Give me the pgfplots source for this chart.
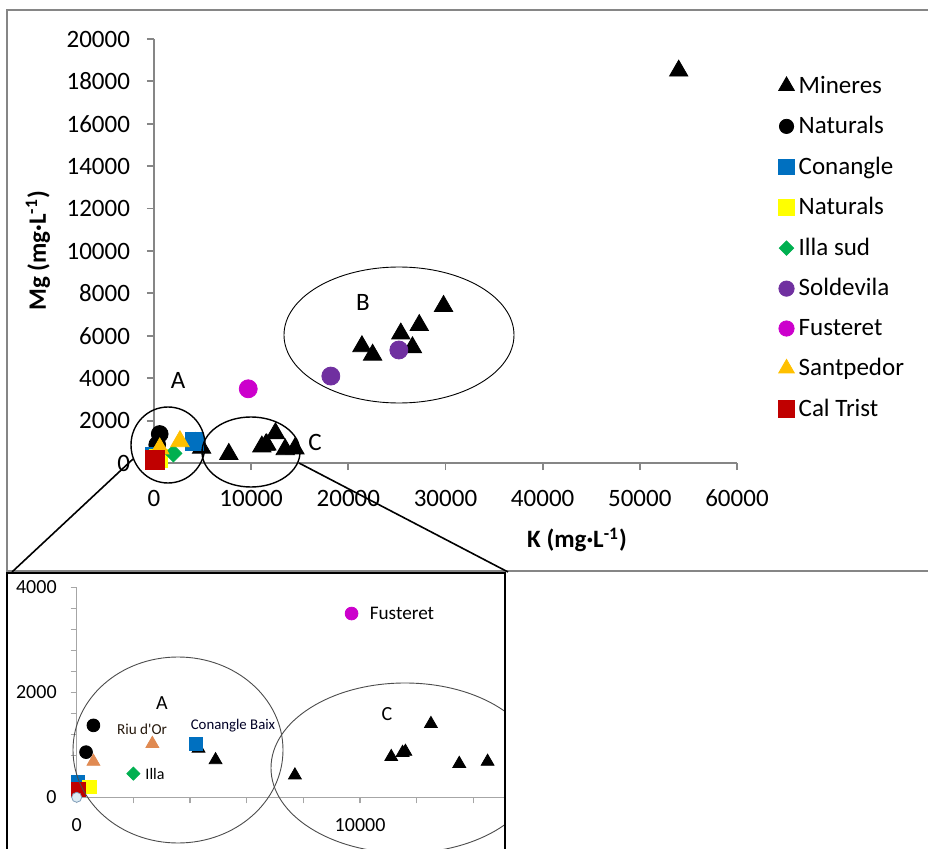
\documentclass[border=0pt]{standalone}
\usepackage{pgfplots}
\pgfplotsset{compat=1.18}
\usepackage{fontspec}
\setmainfont{Carlito}
\definecolor{axgray}{HTML}{868686}
\definecolor{ingray}{HTML}{A6A6A6}
\definecolor{cblue}{HTML}{0070C0}
\definecolor{cyellow}{HTML}{FFFF00}
\definecolor{cgreen}{HTML}{00B050}
\definecolor{cpurple}{HTML}{7030A0}
\definecolor{cmagenta}{HTML}{CC00CC}
\definecolor{cgold}{HTML}{FFC000}
\definecolor{cred}{HTML}{C00000}
\definecolor{corange}{HTML}{E08A52}
\definecolor{cpale}{HTML}{DDEBF3}
\definecolor{cpaleline}{HTML}{7F9DB9}
\begin{document}
\begin{tikzpicture}
\path[use as bounding box] (0pt,0pt) rectangle (464pt,424pt);
\begin{scope}[x=0.5pt,y=0.5pt]
\clip (0,0) rectangle (928,848);
\draw[draw=axgray, line width=1pt] (7,838) rectangle (960,277);
\end{scope}
% ---------------- main chart ----------------
\begin{axis}[
  at={(77pt,192.5pt)}, anchor=south west,
  scale only axis, width=291.5pt, height=212pt,
  xmin=0, xmax=60000, ymin=0, ymax=20000,
  xtick={0,10000,...,60000}, ytick={0,2000,...,20000},
  scaled ticks=false,
  /pgf/number format/1000 sep={},
  /pgf/number format/assume math mode=true,
  axis x line=bottom, axis y line=left,
  axis line style={-, draw=axgray, line width=0.9pt},
  tick style={draw=axgray, line width=0.9pt},
  major tick length=3.5pt, tick align=outside,
  tick label style={font=\fontsize{12.5}{15}\selectfont},
  yticklabel style={xshift=-5pt},
  xticklabel style={yshift=-6.5pt},
  clip=false,
  legend style={at={(1.06,0.933)}, anchor=north west, draw=none, fill=none,
    font=\fontsize{12.5}{15}\selectfont, row sep=6.1pt},
  legend cell align=left,
  legend image code/.code={\draw[#1, /tikz/every mark/.append style={scale=0.85}] plot coordinates {(0.15cm,0cm)};},
]
\addplot[only marks, mark=triangle*, mark size=5.3pt, color=black] coordinates {
 (54000,18500) (29800,7400) (27300,6500) (25400,6100) (26600,5450) (21400,5500) (22500,5100)
 (4300,930) (4900,710) (7700,420) (11100,770) (11500,850) (11600,870) (12500,1400) (13500,640) (14500,680)};
\addlegendentry{Mineres}
\addplot[only marks, mark=*, mark size=4.2pt, color=black] coordinates {(590,1370) (330,860)};
\addlegendentry{Naturals}
\addplot[only marks, mark=square*, mark size=4.5pt, color=cblue] coordinates {(4200,1010) (30,300)};
\addlegendentry{Conangle}
\addplot[only marks, mark=square*, mark size=4.5pt, color=cyellow] coordinates {(450,200)};
\addlegendentry{Naturals}
\addplot[only marks, mark=square*, mark options={rotate=45}, mark size=3pt, color=cgreen] coordinates {(2000,450)};
\addlegendentry{Illa sud}
\addplot[only marks, mark=*, mark size=4.5pt, color=cpurple] coordinates {(18200,4100) (25200,5330)};
\addlegendentry{Soldevila}
\addplot[only marks, mark=*, mark size=4.5pt, color=cmagenta] coordinates {(9700,3500)};
\addlegendentry{Fusteret}
\addplot[only marks, mark=triangle*, mark size=5.3pt, color=cgold] coordinates {(2670,1020) (590,680)};
\addlegendentry{Santpedor}
\addplot[only marks, mark=square*, mark size=4.8pt, color=cred] coordinates {(60,150)};
\addlegendentry{Cal Trist}
\end{axis}
\begin{scope}[x=0.5pt,y=0.5pt]
\node[font=\bfseries\fontsize{12.5}{15}\selectfont, rotate=90] at (38,597) {Mg (mg·L\textsuperscript{-1})};
\node[font=\bfseries\fontsize{12.5}{15}\selectfont] at (577,308) {K (mg·L\textsuperscript{-1})};
\draw[line width=0.7pt] (168,403) ellipse [x radius=18.5pt, y radius=19pt];
\draw[line width=0.7pt] (251,396) ellipse [x radius=24.5pt, y radius=17.5pt];
\draw[line width=0.45pt] (399,513) ellipse [x radius=57.5pt, y radius=34pt];
\node[font=\fontsize{12.5}{15}\selectfont] at (178,468) {A};
\node[font=\fontsize{12.5}{15}\selectfont] at (363,546) {B};
\node[font=\fontsize{12.5}{15}\selectfont] at (315,406) {C};
\end{scope}
% ---------------- inset ----------------
\begin{scope}
\clip (3.5pt,137.5pt) rectangle (252.5pt,-26pt);
\fill[white] (3.5pt,137.5pt) rectangle (252.5pt,-26pt);
\begin{axis}[
  at={(38.35pt,25.35pt)}, anchor=south west,
  scale only axis, width=226.7pt, height=105pt,
  xmin=0, xmax=16000, ymin=0, ymax=4000,
  xtick={0,2000,...,14000}, xticklabels={0,,,,,10000,,},
  ytick={0,400,...,4000}, yticklabels={0,,,,,2000,,,,,4000},
  scaled ticks=false,
  /pgf/number format/1000 sep={},
  axis x line=bottom, axis y line=left,
  axis line style={-, draw=ingray, line width=0.6pt},
  tick style={draw=ingray, line width=0.6pt},
  major tick length=3pt, tick align=outside,
  tick label style={font=\fontsize{10}{12}\selectfont},
  yticklabel style={xshift=-3.5pt},
  xticklabel style={yshift=-4pt},
  clip=false,
]
\addplot[only marks, mark=triangle*, mark size=3.7pt, color=black] coordinates {
 (4300,930) (4900,710) (7700,420) (11100,770) (11500,850) (11600,870) (12500,1400) (13500,640) (14500,680)};
\addplot[only marks, mark=*, mark size=3.2pt, color=black] coordinates {(590,1370) (330,860)};
\addplot[only marks, mark=square*, mark size=3.3pt, color=cblue] coordinates {(4200,1010) (30,300)};
\addplot[only marks, mark=square*, mark size=3.3pt, color=cyellow] coordinates {(450,200)};
\addplot[only marks, mark=square*, mark options={rotate=45}, mark size=2.3pt, color=cgreen] coordinates {(2000,450)};
\addplot[only marks, mark=*, mark size=3.2pt, color=cmagenta] coordinates {(9700,3500)};
\addplot[only marks, mark=triangle*, mark size=3.7pt, color=corange] coordinates {(2670,1020) (590,680)};
\addplot[only marks, mark=square*, mark size=3.3pt, color=cred] coordinates {(60,150)};
\addplot[only marks, mark=*, mark size=2.5pt, draw=cpaleline, fill=cpale] coordinates {(0,0)};
\end{axis}
\begin{scope}[x=0.5pt,y=0.5pt]
\draw[draw=black!70, line width=0.45pt] (178,98) ellipse [x radius=52.5pt, y radius=46.5pt];
\draw[draw=black!70, line width=0.45pt] (405,80) ellipse [x radius=67pt, y radius=42.5pt];
\node[font=\fontsize{10}{12}\selectfont] at (162,145) {A};
\node[font=\fontsize{10}{12}\selectfont] at (387,134) {C};
\node[font=\fontsize{7.6}{9}\selectfont, text=black!80!brown] at (142,119) {Riu d\textquotesingle Or};
\node[font=\fontsize{7.4}{9}\selectfont, text=black!85!blue] at (233,122) {Conangle Baix};
\node[font=\fontsize{8}{10}\selectfont] at (155,74) {Illa};
\node[font=\fontsize{9.6}{12}\selectfont] at (402,235) {Fusteret};
\end{scope}
\end{scope}
\begin{scope}[x=0.5pt,y=0.5pt]
\draw[line width=1pt] (7,275) rectangle (505,-52);
\draw[line width=0.8pt] (12,276) -- (133,389);
\draw[line width=0.8pt] (299,385) -- (508,276);
\end{scope}
\end{tikzpicture}
\end{document}
